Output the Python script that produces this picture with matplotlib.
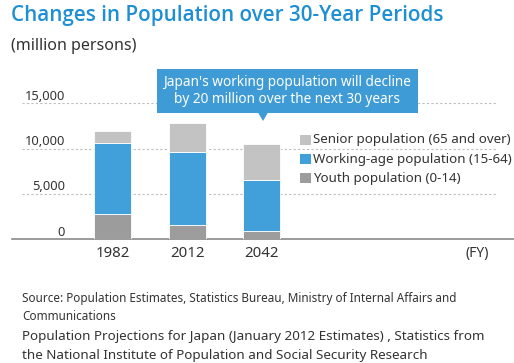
import matplotlib
matplotlib.use("Agg")
import matplotlib.pyplot as plt
from matplotlib.patches import Rectangle, Polygon
import matplotlib.transforms as mtransforms

years = ["1982", "2012", "2042"]
youth = [2780, 1590, 920]
working = [7890, 8080, 5630]
senior = [1220, 3110, 3920]
yticks = [0, 5000, 10000, 15000]
ytick_labels = ["0", "5,000", "10,000", "15,000"]
legend_labels = ["Senior population (65 and over)",
                 "Working-age population (15-64)",
                 "Youth population (0-14)"]
title = "Changes in Population over 30-Year Periods"
unit = "(million persons)"
callout = "Japan's working population will decline\nby 20 million over the next 30 years"
source_lines = [
    "Source: Population Estimates, Statistics Bureau, Ministry of Internal Affairs and",
    "Communications",
    "Population Projections for Japan (January 2012 Estimates) , Statistics from",
    "the National Institute of Population and Social Security Research",
]

C_YOUTH = "#9c9c9c"
C_WORK = "#419fd9"
C_SENIOR = "#c3c3c3"
C_BLUE = "#3e9bd6"
C_TITLE = "#1e8fd3"
C_TEXT = "#333333"

plt.rcParams['font.family'] = ['Noto Sans', 'DejaVu Sans']

W, H = 514, 363
fig = plt.figure(figsize=(W / 100, H / 100), dpi=100)

def fx(x):
    return x / W

def fy(y):
    return 1 - y / H

ax_left, ax_right = 12, 514
y0_px, y15_px = 239.3, 103.3
ax = fig.add_axes([fx(ax_left), fy(y0_px), (ax_right - ax_left) / W, (y0_px - y15_px) / H])
ax.set_ylim(0, 15000)
spacing = 74.7
c0 = 112.5
xmin = 0 - (c0 - ax_left) / spacing
xmax = xmin + (ax_right - ax_left) / spacing
ax.set_xlim(xmin, xmax)

pos = list(range(len(years)))
bw = 0.495
bottom2 = [a + b for a, b in zip(youth, working)]
ax.bar(pos, youth, width=bw, color=C_YOUTH, edgecolor="white", linewidth=0.6, zorder=3)
ax.bar(pos, working, width=bw, bottom=youth, color=C_WORK, edgecolor="white", linewidth=0.6, zorder=3)
ax.bar(pos, senior, width=bw, bottom=bottom2, color=C_SENIOR, edgecolor="white", linewidth=0.6, zorder=3)

for s in ["top", "right", "left"]:
    ax.spines[s].set_visible(False)
ax.spines["bottom"].set_color("#8a8a8a")
ax.spines["bottom"].set_linewidth(1.2)
ax.set_yticks([])
ax.set_xticks(pos, years, fontsize=10.8, color=C_TEXT)
ax.tick_params(axis="x", length=0, pad=5)
ax.patch.set_alpha(0)

gx0 = (22 - ax_left) / (ax_right - ax_left)
gx1 = (497 - ax_left) / (ax_right - ax_left)
for v in yticks[1:]:
    ax.axhline(v, xmin=gx0, xmax=gx1, color="#bdbdbd", lw=0.8, ls=(0, (2, 2)), zorder=1)

lab_tr = mtransforms.offset_copy(
    mtransforms.blended_transform_factory(fig.transFigure, ax.transData),
    fig=fig, x=0, y=7, units="dots")
for v, lab in zip(yticks, ytick_labels):
    ax.text(fx(65), v, lab, transform=lab_tr, ha="right", va="center",
            fontsize=9.3, color=C_TEXT)

fig.text(fx(477), fy(253), "(FY)", ha="center", va="center", fontsize=10, color=C_TEXT)

fig.text(fx(11), fy(16), title, ha="left", va="center", fontsize=14.9,
         fontfamily=["Open Sans", "DejaVu Sans"], fontweight="semibold", color=C_TITLE)
fig.text(fx(11), fy(46), unit, ha="left", va="center", fontsize=11.5, color=C_TEXT)

leg_colors = [C_SENIOR, C_WORK, C_YOUTH]
leg_y = [140, 159, 178]
for col, yy, lab in zip(leg_colors, leg_y, legend_labels):
    fig.patches.append(Rectangle((fx(300), fy(yy + 5)), 11 / W, 10 / H,
                                 transform=fig.transFigure, color=col, lw=0))
    fig.text(fx(313), fy(yy), lab, ha="left", va="center", fontsize=9.6, color=C_TEXT)

fig.patches.append(Rectangle((fx(157), fy(113)), (418 - 157) / W, (113 - 69) / H,
                             transform=fig.transFigure, color=C_BLUE, lw=0, zorder=5))
fig.patches.append(Polygon([(fx(258), fy(112.5)), (fx(268), fy(112.5)), (fx(263), fy(121))],
                           closed=True, transform=fig.transFigure, color=C_BLUE, lw=0, zorder=5))
fig.text(fx(287.5), fy(91), callout, ha="center", va="center", fontsize=9.8,
         color="white", linespacing=1.25, zorder=6)

src_y = [298.5, 316.5, 336.5, 355]
src_sizes = [8.45, 8.45, 9.7, 9.7]
for line, yy, fs in zip(source_lines, src_y, src_sizes):
    fig.text(fx(22), fy(yy), line, ha="left", va="center", fontsize=fs, color=C_TEXT)

fig.savefig("out.png", dpi=100)
